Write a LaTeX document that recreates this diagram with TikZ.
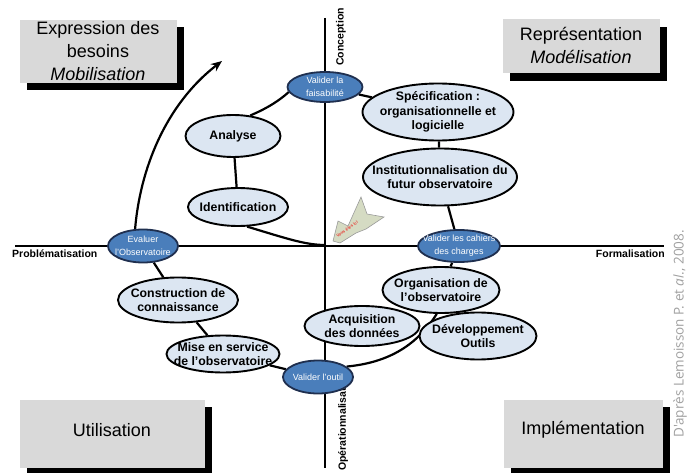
\documentclass[tikz,border=0pt]{standalone}
\usepackage{fontspec}
\setmainfont{Liberation Sans}
\newfontfamily\creditfont{Open Sans}
\usetikzlibrary{shapes.geometric,arrows.meta}
\pgfdeclarelayer{axeslayer}
\pgfdeclarelayer{connlayer}
\pgfsetlayers{axeslayer,connlayer,main}
\definecolor{ellfill}{HTML}{DCE6F2}
\definecolor{bluefill}{HTML}{4A7EBB}
\definecolor{blueline}{HTML}{1F2F4F}
\definecolor{boxgray}{HTML}{D9D9D9}
\definecolor{arrowfill}{HTML}{D5DBC3}
\definecolor{arrowline}{HTML}{9A9A9A}
\definecolor{credgray}{HTML}{A0A0A0}
\definecolor{redtext}{HTML}{E8403A}
\begin{document}
\begin{tikzpicture}[x=1pt,y=-1pt,
  conn/.style={line width=2.2pt, black},
  axis/.style={line width=1.4pt, black},
  ell/.style 2 args={ellipse, draw=black, line width=1.9pt, fill=ellfill, inner sep=0pt, minimum width=#1pt, minimum height=#2pt},
  bell/.style 2 args={ellipse, draw=blueline, line width=1.8pt, fill=bluefill, inner sep=0pt, minimum width=#1pt, minimum height=#2pt},
  etext/.style={align=center, font=\fontsize{12.3}{14.5}\selectfont\bfseries, inner sep=0pt},
  btext/.style={align=center, text=white, font=\fontsize{9}{13}\selectfont, inner sep=0pt},
  axlabel/.style={font=\fontsize{10.5}{12}\selectfont\bfseries, inner sep=0pt},
  boxtext/.style={align=center, font=\fontsize{18}{23}\selectfont, inner sep=0pt}
]
\useasboundingbox (0,0) rectangle (691,473);

% shadowed boxes
\fill[black] (27,27) rectangle (184,90);
\fill[boxgray] (20,20) rectangle (177,83);
\node[boxtext] (expr) at (98,51) {Expression des\\besoins\\\textit{Mobilisation}};

\fill[black] (510,27) rectangle (667,81);
\fill[boxgray] (503,19) rectangle (660,73);
\node[boxtext] (repr) at (581,45) {Représentation\\\textit{Modélisation}};

\fill[black] (27,407) rectangle (212,475);
\fill[boxgray] (20,400) rectangle (205,468);
\node[boxtext] (util) at (112,430) {Utilisation};

\fill[black] (511,407) rectangle (670,475);
\fill[boxgray] (504,400) rectangle (663,468);
\node[boxtext] (impl) at (583,430) {Implémentation};

% credit
\node[rotate=90, text=credgray, font=\creditfont\fontsize{13.5}{15}\selectfont] (cred) at (680,334) {D'après Lemoisson P. et \textit{al}., 2008.};

% "you are here" arrow
\fill[arrowfill, draw=arrowline, line width=0.6pt]
  (333,241) -- (338,221) -- (348,226) -- (361,197) -- (367,214) -- (384,217)
  -- (366,229) -- (356,233) -- (340,243) -- cycle;
\node[rotate=35, text=redtext, font=\fontsize{4.2}{5}\selectfont\bfseries, inner sep=0pt] (ici) at (347,229) {Vous êtes ici};

% ellipses
\node[bell={75}{30}] (faisa) at (325,87) {};
\node[ell={151}{57}] (spec) at (438,112) {};
\node[ell={154}{57}] (inst) at (440,177) {};
\node[bell={82}{32}] (cahiers) at (459,246) {};
\node[ell={95}{42}] (analyse) at (233,136) {};
\node[ell={100}{38}] (ident) at (238,207) {};
\node[bell={70}{33}] (eval) at (143,246) {};
\node[ell={120}{45}] (constr) at (178,300) {};
\node[ell={113}{37}] (mise) at (223,354) {};
\node[ell={117}{46}] (orga) at (441,290) {};
\node[ell={117}{47}] (dev) at (478,336) {};
\node[ell={115}{40}] (acq) at (362,326) {};
\node[bell={70}{33}] (outil) at (318,377) {};

% axes and their labels
\begin{pgfonlayer}{axeslayer}
\coordinate (vtop) at (325,18);
\coordinate (vbot) at (325,468);
\coordinate (hl) at (15,246);
\coordinate (hr) at (664,246);
\draw[axis] (vtop) -- (vbot);
\draw[axis] (hl) -- (hr);
\node[axlabel, rotate=90] (conc) at (341,37) {Conception};
\node[axlabel, anchor=west] (prob) at (12,254) {Problématisation};
\node[axlabel, anchor=east] (form) at (665,254) {Formalisation};
\node[axlabel, rotate=90, anchor=west] (oper) at (343,471) {Opérationnalisation};
\end{pgfonlayer}

% connectors
\begin{pgfonlayer}{connlayer}
\coordinate (o) at (325,245);
\coordinate (tip) at (222,61);
\draw[conn] (faisa) -- (spec);
\draw[conn] (faisa.188) .. controls (280,100) and (268,108) .. (analyse.50);
\draw[conn] (analyse) -- (ident);
\draw[conn] (ident.-65) .. controls (285,238) and (305,245) .. (o);
\draw[conn] (spec) -- (inst);
\draw[conn] (inst) -- (cahiers);
\draw[conn] (cahiers) -- (orga);
\draw[conn] (orga.-100) .. controls (420,340) and (395,362) .. (outil.20);
\draw[conn] (outil) -- (mise);
\draw[conn] (mise) -- (constr);
\draw[conn] (constr) -- (eval);
\draw[conn, -{Stealth[length=11pt,width=9pt]}] (eval.115) .. controls (140,170) and (165,105) .. (tip);
\end{pgfonlayer}

% texts
\node[btext] at (faisa) {Valider la\\faisabilité};
\node[etext] at (spec) {Spécification :\\organisationnelle et\\logicielle};
\node[etext] at (inst) {Institutionnalisation du\\futur observatoire};
\node[btext] at (cahiers) {Valider les cahiers\\des charges};
\node[etext] at (analyse) {Analyse};
\node[etext] at (ident) {Identification};
\node[btext] at (eval) {Evaluer\\l'Observatoire};
\node[etext] at (constr) {Construction de\\connaissance};
\node[etext] at (mise) {Mise en service\\de l'observatoire};
\node[etext] at (orga) {Organisation de\\l'observatoire};
\node[etext] at (dev) {Développement\\Outils};
\node[etext] at (acq) {Acquisition\\des données};
\node[btext] at (outil) {Valider l'outil};
\end{tikzpicture}
\end{document}
